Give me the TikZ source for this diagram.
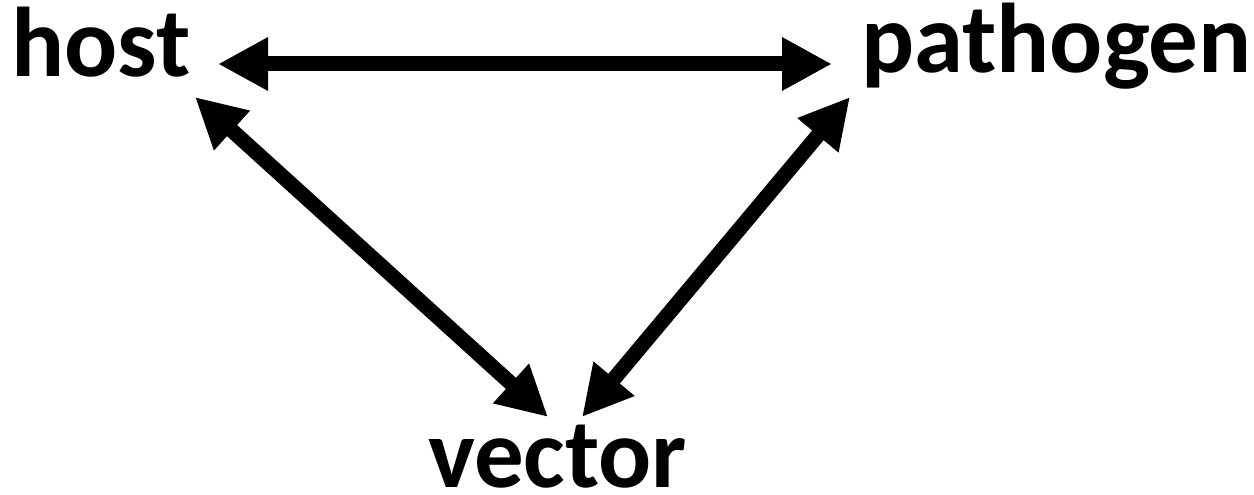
\documentclass[tikz,border=0pt]{standalone}
\usepackage{fontspec}
\setmainfont{Carlito}
\usetikzlibrary{arrows.meta}
\begin{document}
\begin{tikzpicture}[x=1pt,y=-1pt,
  lbl/.style={inner sep=0pt,anchor=base west,font=\bfseries\fontsize{99}{99}\selectfont},
  dbl/.style={line width=15pt,{Triangle[length=50pt,width=50pt]}-{Triangle[length=50pt,width=50pt]}}]
\useasboundingbox (0,0) rectangle (1254,495);
\node[lbl] (host) at (11,77) {host};
\node[lbl] (pathogen) at (861,73) {pathogen};
\node[lbl] (vector) at (428,487) {vector};
\coordinate (hR) at (218,64);
\coordinate (pL) at (832,64);
\coordinate (hD) at (195,97);
\coordinate (vL) at (548,417);
\coordinate (pD) at (850,97);
\coordinate (vR) at (582,417);
\draw[dbl] (hR) -- (pL);
\draw[dbl] (hD) -- (vL);
\draw[dbl] (pD) -- (vR);
\end{tikzpicture}
\end{document}
